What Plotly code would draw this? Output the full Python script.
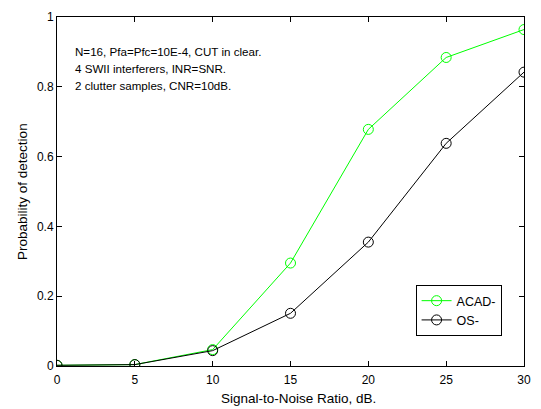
import plotly.graph_objects as go

snr = [0, 5, 10, 15, 20, 25, 30]
acad = [0.002, 0.004, 0.047, 0.295, 0.678, 0.884, 0.964]
os_vals = [0.002, 0.004, 0.044, 0.151, 0.355, 0.638, 0.842]
x_ticks = [0, 5, 10, 15, 20, 25, 30]
y_ticks = [0, 0.2, 0.4, 0.6, 0.8, 1]
y_tick_labels = ["0", "0.2", "0.4", "0.6", "0.8", "1"]
notes = ["N=16, Pfa=Pfc=10E-4, CUT in clear.",
         "4 SWII interferers, INR=SNR.",
         "2 clutter samples, CNR=10dB."]
note_y = [0.902, 0.853, 0.803]
x_title = "Signal-to-Noise Ratio, dB."
y_title = "Probability of detection"

font = "Liberation Sans, Arial, sans-serif"

fig = go.Figure()
fig.add_trace(go.Scatter(x=snr, y=acad, mode="lines+markers", name="ACAD-",
                         line=dict(color="#00ff00", width=1),
                         marker=dict(symbol="circle-open", size=10, color="#00ff00",
                                     line=dict(width=1, color="#00ff00"))))
fig.add_trace(go.Scatter(x=snr, y=os_vals, mode="lines+markers", name="OS-",
                         line=dict(color="black", width=1),
                         marker=dict(symbol="circle-open", size=10, color="black",
                                     line=dict(width=1, color="black"))))

for t, yy in zip(notes, note_y):
    fig.add_annotation(x=1.0, y=yy, xref="x", yref="y", text=t,
                       showarrow=False, xanchor="left", yanchor="middle",
                       font=dict(family=font, size=11.6, color="black"))

fig.add_annotation(x=0.518, y=-0.0927, xref="paper", yref="paper", text=x_title,
                   showarrow=False, xanchor="center", yanchor="middle",
                   font=dict(family=font, size=13.5, color="black"))
fig.add_annotation(x=-0.074, y=0.5, xref="paper", yref="paper", text=y_title,
                   showarrow=False, xanchor="center", yanchor="middle", textangle=-90,
                   font=dict(family=font, size=13.5, color="black"))

axis_common = dict(showline=True, linecolor="black", linewidth=1, mirror="allticks",
                   ticks="inside", ticklen=5, tickcolor="black", showgrid=False,
                   zeroline=False, tickfont=dict(family=font, size=12, color="black"))

fig.update_xaxes(range=[0, 30], tickvals=x_ticks, ticklabelstandoff=3, **axis_common)
fig.update_yaxes(range=[0, 1], tickvals=y_ticks, ticktext=y_tick_labels, **axis_common)

fig.update_layout(width=541, height=409,
                  margin=dict(l=57, r=12, t=10, b=43),
                  paper_bgcolor="white", plot_bgcolor="white",
                  showlegend=True,
                  legend=dict(x=0.952, y=0.232, xanchor="right", yanchor="top",
                              bgcolor="white", bordercolor="black", borderwidth=1,
                              font=dict(family=font, size=12.5, color="black"),
                              itemwidth=30, tracegroupgap=0))

fig.write_html("out.html")
